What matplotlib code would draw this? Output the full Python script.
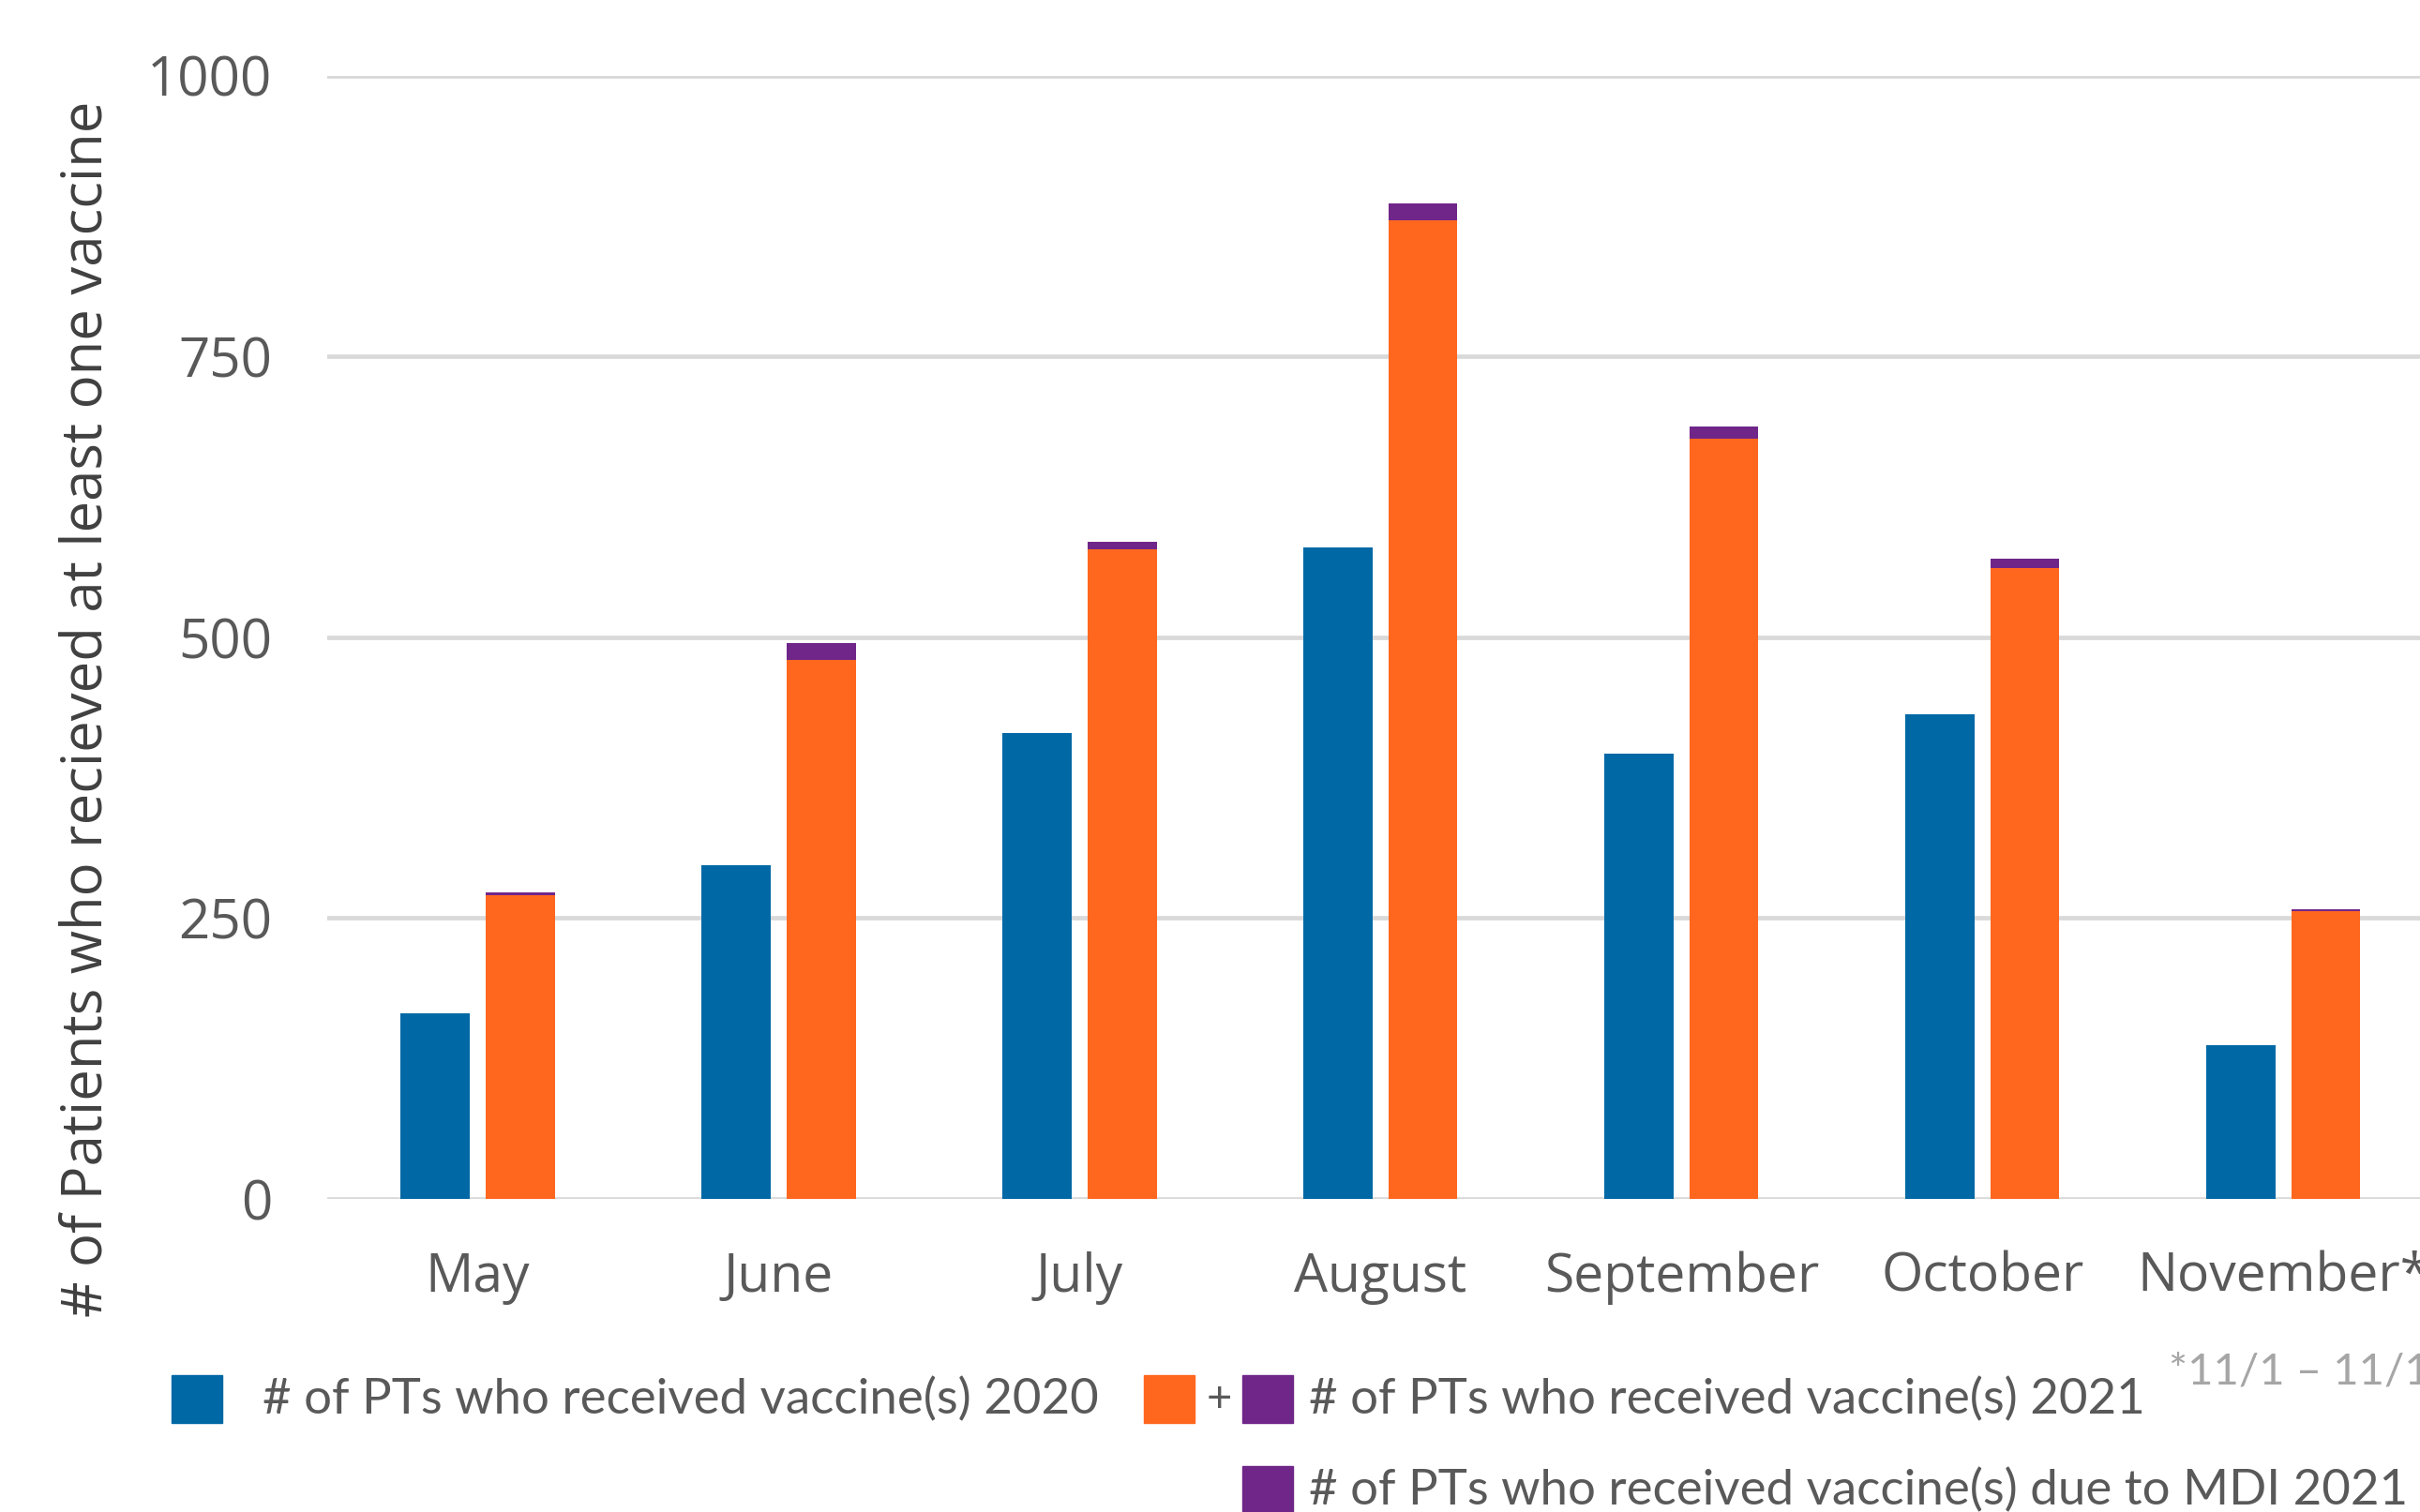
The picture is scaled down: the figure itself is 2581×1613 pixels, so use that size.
import matplotlib.pyplot as plt
from matplotlib.patches import Rectangle
import numpy as np

months = ['May', 'June', 'July', 'August', 'September', 'October', 'November*']
pts_2020 = [165, 297, 415, 580, 396, 431, 137]
pts_2021 = [270, 480, 578, 871, 677, 562, 256]
pts_mdi_2021 = [3, 15, 7, 15, 11, 8, 2]

blue = '#0068A5'
orange = '#FF671F'
purple = '#702689'
grid_c = '#D9D9D9'
text_c = '#595959'

W, H = 25.81, 16.13
fig = plt.figure(figsize=(W, H), dpi=100)
ax = fig.add_axes([0.1352, 0.2071, 0.8705, 0.7429])

x = np.arange(len(months))
bw = 0.23
off = 0.141
ax.bar(x - off, pts_2020, width=bw, color=blue, zorder=3)
ax.bar(x + off, pts_2021, width=bw, color=orange, zorder=3)
ax.bar(x + off, pts_mdi_2021, width=bw, bottom=pts_2021, color=purple, zorder=3)

ax.set_xlim(-0.5, len(months) - 0.5)
ax.set_ylim(0, 1000)
ax.set_yticks([0, 250, 500, 750, 1000])
ax.grid(axis='y', color=grid_c, linewidth=3.4, zorder=0)
for s in ax.spines.values():
    s.set_visible(False)
ax.tick_params(length=0)
ax.tick_params(axis='y', pad=42, labelsize=42, labelcolor=text_c)
ax.tick_params(axis='x', pad=40, labelsize=41, labelcolor=text_c)
ax.set_xticks(x)
ax.set_xticklabels(months)
for lab in ax.get_xticklabels() + ax.get_yticklabels():
    lab.set_fontfamily('Open Sans')

fig.text(0.036, 0.531, '# of Patients who recieved at least one vaccine',
         rotation=90, ha='center', va='center', fontsize=43,
         color='#404040', family='Open Sans')

# legend, drawn by hand
def sq(x0, y0, c):
    fig.patches.append(Rectangle((x0 / 1568, 1 - y0 / 980), 33 / 1568, 31 / 980,
                                 transform=fig.transFigure, color=c))

sq(111, 922, blue)
fig.text(170 / 1568, 1 - 907 / 980, '# of PTs who received vaccine(s) 2020',
         ha='left', va='center', fontsize=38, color=text_c, family='Lato')
sq(741, 922, orange)
fig.text(790 / 1568, 1 - 907 / 980, '+', ha='center', va='center',
         fontsize=34, color=text_c, family='Lato')
sq(805, 922, purple)
fig.text(848 / 1568, 1 - 907 / 980, '# of PTs who received vaccine(s) 2021',
         ha='left', va='center', fontsize=38, color=text_c, family='Lato')
sq(805, 981, purple)
fig.text(848 / 1568, 1 - 966 / 980, '# of PTs who received vaccine(s) due to MDI 2021',
         ha='left', va='center', fontsize=38, color=text_c, family='Lato')

fig.text(1405 / 1568, 1 - 889 / 980, '*11/1 \u2013 11/12', ha='left', va='center',
         fontsize=34, color='#A6A6A6', family='Lato')

fig.savefig('out.png', dpi=100)
